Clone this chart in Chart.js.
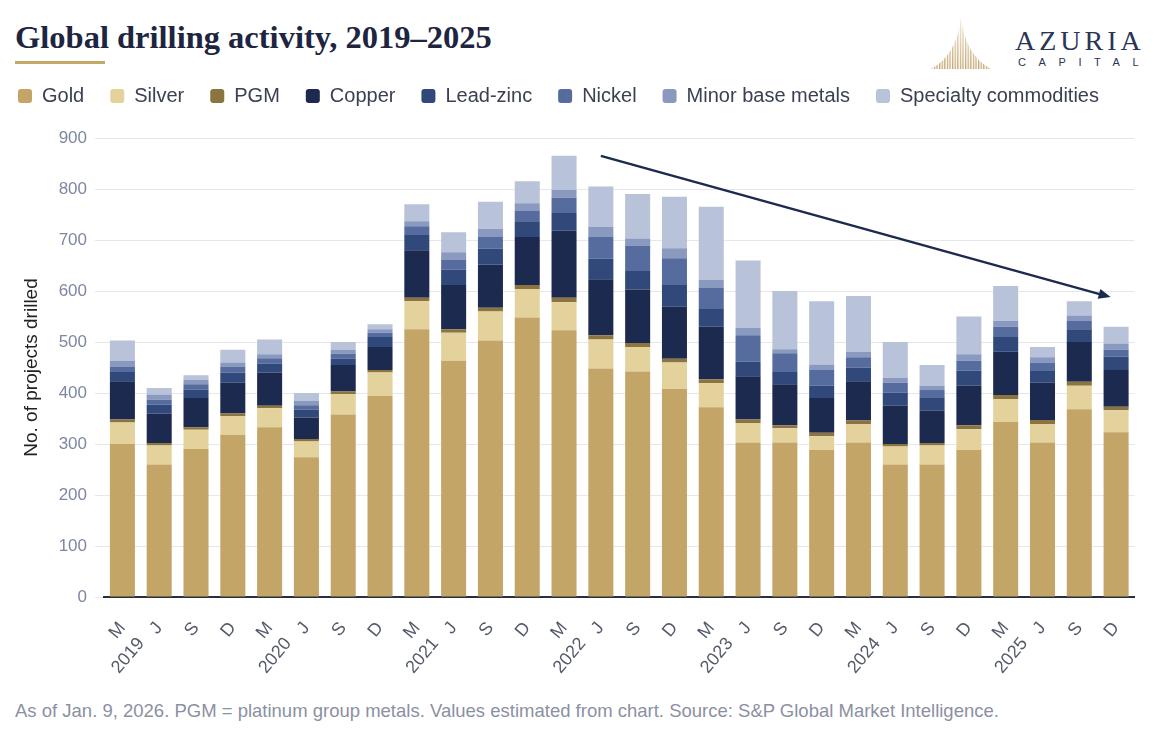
<!DOCTYPE html>
<html>
<head>
<meta charset="utf-8">
<title>Global drilling activity, 2019–2025</title>
<script src="https://cdn.jsdelivr.net/npm/chart.js@4.4.1/dist/chart.umd.min.js"></script>
<style>
    html, body { margin: 0; padding: 0; background: #fff; }
    body { width: 1171px; height: 729px; position: relative; overflow: hidden; font-family: "Liberation Sans", Arial, sans-serif; }
    #title { position: absolute; left: 15px; top: 21px; font-family: "Liberation Serif", serif; font-size: 32.5px; line-height: 32px; font-weight: bold; color: #1d2540; white-space: nowrap; }
    #rule { position: absolute; left: 15px; top: 61px; width: 90px; height: 3px; background: #c4a868; }
    #logoMark { position: absolute; left: 926px; top: 15px; }
    #logoName { position: absolute; left: 1015px; top: 27px; font-family: "Liberation Serif", serif; font-size: 28px; line-height: 28px; letter-spacing: 4px; color: #2b3555; }
    #logoSub { position: absolute; left: 1018px; top: 57px; font-size: 11px; line-height: 11px; letter-spacing: 12.6px; color: #2b3555; }
    #chartBox { position: absolute; left: -8px; top: 60px; width: 1179px; height: 640px; }
    #note { position: absolute; left: 15px; top: 700px; font-size: 18.5px; color: #8b90a3; white-space: nowrap; }
</style>
</head>
<body>
<div id="title">Global drilling activity, 2019–2025</div>
<div id="rule"></div>
<svg id="logoMark" width="70" height="58" viewBox="0 0 70 58">
    <defs>
        <pattern id="stripes" width="2.6" height="58" patternUnits="userSpaceOnUse">
            <rect width="1.3" height="58" fill="#bf9c62"></rect>
        </pattern>
        <linearGradient id="fade" x1="0" y1="0" x2="0" y2="1">
            <stop offset="0" stop-color="#fff" stop-opacity="0.2"></stop>
            <stop offset="1" stop-color="#fff" stop-opacity="1"></stop>
        </linearGradient>
        <mask id="fadeMask"><rect width="70" height="58" fill="url(#fade)"></rect></mask>
    </defs>
    <path d="M35,2 Q31,40 5,54 L65,54 Q39,40 35,2 Z" fill="url(#stripes)" mask="url(#fadeMask)"></path>
</svg>
<div id="logoName">AZURIA</div>
<div id="logoSub">CAPITAL</div>
<div id="chartBox"><canvas id="drillingChart"></canvas></div>
<div id="note">As of Jan. 9, 2026. PGM = platinum group metals. Values estimated from chart. Source: S&amp;P Global Market Intelligence.</div>

<script>
const tickMonths = ['M', 'J', 'S', 'D'];
const tickYears = ['2019', '2020', '2021', '2022', '2023', '2024', '2025'];

// projects drilled per period
const gold = [300, 260, 290, 318, 333, 274, 358, 394, 525, 463, 503, 548, 523, 448, 442, 408, 372, 303, 303, 288, 303, 260, 260, 288, 343, 303, 368, 323];
const silver = [42, 37, 38, 37, 37, 31, 40, 46, 55, 55, 57, 56, 55, 57, 48, 52, 47, 38, 28, 27, 36, 35, 37, 41, 45, 36, 46, 43];
const pgm = [6, 5, 5, 5, 5, 5, 5, 5, 7, 7, 7, 8, 9, 8, 8, 7, 8, 7, 6, 7, 7, 5, 5, 8, 8, 8, 8, 7];
const copper = [75, 58, 57, 60, 65, 42, 52, 45, 93, 87, 85, 94, 131, 110, 105, 102, 103, 85, 80, 68, 77, 75, 63, 77, 85, 73, 78, 72];
const leadZinc = [18, 17, 17, 20, 18, 15, 12, 20, 30, 30, 31, 31, 35, 40, 36, 43, 36, 29, 24, 24, 27, 26, 25, 30, 29, 23, 25, 26];
const nickel = [10, 10, 10, 12, 10, 9, 10, 8, 17, 20, 23, 20, 30, 44, 50, 52, 41, 51, 37, 31, 20, 19, 16, 19, 20, 17, 16, 14];
const minorBase = [12, 10, 9, 8, 8, 9, 8, 7, 10, 14, 16, 15, 15, 19, 14, 20, 15, 15, 8, 11, 11, 10, 8, 13, 11, 10, 11, 12];
const specialty = [40, 13, 9, 25, 29, 15, 15, 10, 33, 39, 53, 43, 67, 79, 87, 101, 143, 132, 114, 124, 109, 70, 41, 74, 69, 20, 28, 33];

const seriesNames = ['Gold', 'Silver', 'PGM', 'Copper', 'Lead-zinc', 'Nickel', 'Minor base metals', 'Specialty commodities'];
const seriesColors = ['#c3a567', '#e4d29c', '#8c7440', '#1c2a4f', '#31487a', '#566c9e', '#8a99c0', '#b8c2d8'];

// trend arrow, in (category index, projects)
const trendFrom = [13, 865];
const trendTo = [26.85, 588];

const labels = [];
tickYears.forEach(year => {
    tickMonths.forEach((month, i) => labels.push(i === 0 ? [month, year] : month));
});

const trendArrow = {
    id: 'trendArrow',
    afterDatasetsDraw(chart) {
        const {ctx, scales: {x, y}} = chart;
        const x1 = x.getPixelForValue(trendFrom[0]);
        const y1 = y.getPixelForValue(trendFrom[1]);
        const x2 = x.getPixelForValue(trendTo[0]);
        const y2 = y.getPixelForValue(trendTo[1]);
        const angle = Math.atan2(y2 - y1, x2 - x1);
        const head = 13;

        ctx.save();
        ctx.strokeStyle = '#1b2a4e';
        ctx.fillStyle = '#1b2a4e';
        ctx.lineWidth = 2.5;
        ctx.beginPath();
        ctx.moveTo(x1, y1);
        ctx.lineTo(x2 - Math.cos(angle) * head * 0.8, y2 - Math.sin(angle) * head * 0.8);
        ctx.stroke();
        ctx.beginPath();
        ctx.moveTo(x2, y2);
        ctx.lineTo(x2 - head * Math.cos(angle - 0.4), y2 - head * Math.sin(angle - 0.4));
        ctx.lineTo(x2 - head * Math.cos(angle + 0.4), y2 - head * Math.sin(angle + 0.4));
        ctx.closePath();
        ctx.fill();
        ctx.restore();
    }
};

Chart.defaults.font.family = '"Liberation Sans", Arial, sans-serif';

const series = [gold, silver, pgm, copper, leadZinc, nickel, minorBase, specialty];

new Chart(document.getElementById('drillingChart'), {
    type: 'bar',
    data: {
        labels: labels,
        datasets: series.map((values, i) => ({
            label: seriesNames[i],
            data: values,
            backgroundColor: seriesColors[i],
            borderWidth: 0,
            barPercentage: 0.68,
            categoryPercentage: 1,
            stack: 'projects'
        }))
    },
    options: {
        responsive: true,
        maintainAspectRatio: false,
        animation: false,
        events: [],
        layout: { padding: { left: 0, right: 36.5, top: 0, bottom: 0 } },
        plugins: {
            legend: {
                position: 'top',
                align: 'start',
                weight: 3000,
                labels: {
                    boxWidth: 14,
                    boxHeight: 14,
                    padding: 26,
                    color: '#3b4053',
                    font: { size: 20 },
                    useBorderRadius: true,
                    borderRadius: 3
                }
            },
            // empty title used only as a gap between the legend and the plot
            title: {
                display: true,
                text: '',
                font: { size: 10 },
                padding: { top: 0, bottom: 10 }
            },
            tooltip: { enabled: false }
        },
        scales: {
            x: {
                stacked: true,
                grid: { display: false, drawTicks: false },
                border: { display: true, color: '#2b2f3a', width: 2 },
                ticks: {
                    color: '#555a6b',
                    font: { size: 18, lineHeight: 1.35 },
                    autoSkip: false,
                    minRotation: 50,
                    maxRotation: 50,
                    padding: 20
                },
                afterFit(scale) { scale.height = 103; }
            },
            y: {
                stacked: true,
                min: 0,
                max: 900,
                ticks: { stepSize: 100, color: '#7e87a3', font: { size: 17 }, padding: 8 },
                grid: { color: '#e6e7eb', tickColor: '#e6e7eb', tickLength: 9 },
                border: { display: false },
                title: {
                    display: true,
                    text: 'No. of projects drilled',
                    color: '#222222',
                    font: { size: 19 },
                    padding: { top: 28, bottom: 0 }
                },
                afterFit(scale) { scale.width = 112; }
            }
        }
    },
    plugins: [trendArrow]
});
</script>
</body>
</html>
